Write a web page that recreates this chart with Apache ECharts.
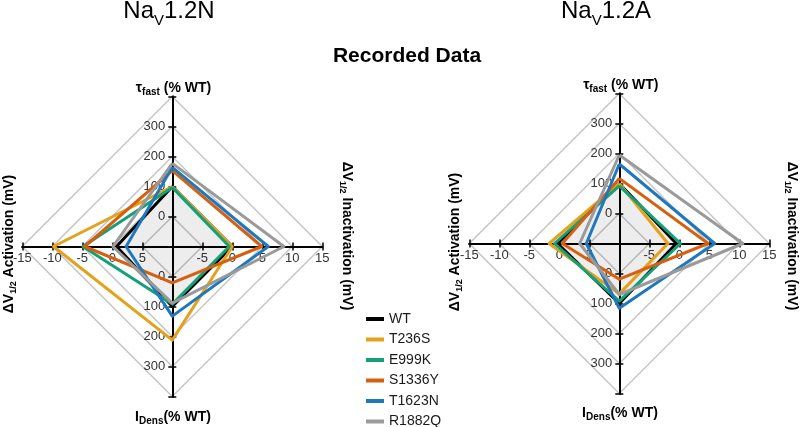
<!DOCTYPE html>
<html><head><meta charset="utf-8">
<script src="https://cdn.jsdelivr.net/npm/echarts@6/dist/echarts.min.js"></script>
<style>html,body{margin:0;padding:0;background:#fff}#c{width:800px;height:427px}</style>
</head><body><div id="c"></div>
<script>
// ---------- data ----------
const variants = ['WT', 'T236S', 'E999K', 'S1336Y', 'T1623N', 'R1882Q'];
const colors = ['#000000', '#E6A11A', '#14A078', '#D6600F', '#1F78BD', '#9A9A9A'];

// NaV1.2N
const nTauFast      = [100, 100, 97, 153, 164, 177];   // % WT
const nActivation   = [0.7, -9.8, -4.9, -4.6, 2.3, 0.1]; // mV
const nIDens        = [100, 212, 92, 21, 132, 89];      // % WT
const nInactivation = [0, 0, -0.5, 4.9, 6.0, 8.6];      // mV

// NaV1.2A
const aTauFast      = [100, 100, 92, 117, 165, 195];
const aActivation   = [-0.3, -1.7, -0.8, 0.5, 4.5, 3.4];
const aIDens        = [100, 68, 92, 19, 116, 70];
const aInactivation = [-0.5, -1.9, 0.2, 4.8, 5.9, 10.6];

// tick labels (outward from the centre)
const percentTicks = ['0', '100', '200', '300'];
const mvTicksRight = ['-5', '0', '5', '10', '15'];
const mvTicksLeft  = ['5', '0', '-5', '-10', '-15'];

// ---------- layout ----------
const FONT = "'Liberation Sans', Arial, sans-serif";
const R = 150;
const panels = [
  { center: [172.3, 246.5], tau: nTauFast, act: nActivation, idens: nIDens, inact: nInactivation },
  { center: [619.3, 243.5], tau: aTauFast, act: aActivation, idens: aIDens, inact: aInactivation }
];

const radar = panels.map(p => ({
  center: p.center, radius: R, startAngle: 90, shape: 'polygon', splitNumber: 5,
  indicator: [
    { name: 'tau', min: -100, max: 400 },
    { name: 'act', min: -10, max: 15 },
    { name: 'idens', min: -100, max: 400 },
    { name: 'inact', min: -10, max: 15 }
  ],
  axisName: { show: false },
  axisLine: { show: false },
  axisTick: { show: false },
  axisLabel: { show: false },
  splitArea: { show: false },
  splitLine: { lineStyle: { color: '#c6c6c6', width: 1.5 } }
}));

const series = panels.map((p, k) => ({
  type: 'radar', radarIndex: k, symbol: 'none', z: 3,
  data: variants.map((v, i) => {
    const d = {
      name: v,
      value: [p.tau[i], -p.act[i], p.idens[i], p.inact[i]],
      lineStyle: { color: colors[i], width: 3 },
      itemStyle: { color: colors[i] }
    };
    if (i === 0) d.areaStyle = { color: 'rgba(0,0,0,0.1)' };
    return d;
  })
}));

const grid = panels.map(p => ({ left: p.center[0] - R, top: p.center[1] - R, width: 2 * R, height: 2 * R }));

const xFmt = v => {
  if (v === 0) return '';
  const idx = Math.abs(v) / 5 - 1;
  return (v > 0 ? mvTicksRight : mvTicksLeft)[idx] || '';
};
const yFmt = v => {
  const idx = Math.abs(v) / 100 - 1;
  return percentTicks[idx] !== undefined ? percentTicks[idx] : '';
};

function axis(k, dim, pos, withLabel) {
  const isX = dim === 'x';
  return {
    type: 'value', gridIndex: k, z: 1, position: pos, offset: -R,
    min: isX ? -25 : -500, max: isX ? 25 : 500, interval: isX ? 5 : 100,
    axisLine: { onZero: false, lineStyle: { color: '#000', width: 2 } },
    axisTick: { show: true, length: 4, lineStyle: { color: '#000', width: 1.5 } },
    splitLine: { show: false },
    axisLabel: withLabel ? {
      formatter: isX ? xFmt : yFmt, fontSize: 13, color: '#333', fontFamily: FONT,
      margin: isX ? 5 : 7, showMinLabel: true, showMaxLabel: true
    } : { show: false }
  };
}
const xAxis = [], yAxis = [];
panels.forEach((p, k) => {
  xAxis.push(axis(k, 'x', 'bottom', true), axis(k, 'x', 'top', false));
  yAxis.push(axis(k, 'y', 'left', true), axis(k, 'y', 'right', false));
});

function txt(x, y, text, o) {
  return {
    type: 'text', x: x, y: y, rotation: o.rot || 0, z: 10,
    style: {
      text: text, fill: '#000', fontSize: o.size, fontWeight: o.weight || 'normal', fontFamily: FONT,
      align: 'center', verticalAlign: 'middle', lineHeight: o.lh,
      rich: o.rich
    }
  };
}
const subSmall = { s: { fontSize: 10, lineHeight: 10, verticalAlign: 'bottom', fontWeight: 'bold', fontFamily: FONT, fill: '#000' } };
const subSide = { s: { fontSize: 9, lineHeight: 9, verticalAlign: 'bottom', fontWeight: 'bold', fontFamily: FONT, fill: '#000' } };
const subTitle = { v: { fontSize: 15, lineHeight: 15, verticalAlign: 'bottom', fontFamily: FONT, fill: '#000' } };

const graphic = [
  txt(169, 11, 'Na{v|V}1.2N', { size: 24, lh: 34, rich: subTitle }),
  txt(606, 11, 'Na{v|V}1.2A', { size: 24, lh: 34, rich: subTitle }),
  txt(407, 56, 'Recorded Data', { size: 21, weight: 'bold', lh: 24 }),
  txt(173.5, 88, 'τ{s|fast} (% WT)', { size: 14, weight: 'bold', lh: 18, rich: subSmall }),
  txt(620.8, 85, 'τ{s|fast} (% WT)', { size: 14, weight: 'bold', lh: 18, rich: subSmall }),
  txt(173, 417, 'I{s|Dens}(% WT)', { size: 14, weight: 'bold', lh: 18, rich: subSmall }),
  txt(620, 413, 'I{s|Dens}(% WT)', { size: 14, weight: 'bold', lh: 18, rich: subSmall }),
  txt(347, 236, 'ΔV{s|1/2} Inactivation (mV)', { size: 14, weight: 'bold', lh: 18, rich: subSide, rot: -Math.PI / 2 }),
  txt(792, 236, 'ΔV{s|1/2} Inactivation (mV)', { size: 14, weight: 'bold', lh: 18, rich: subSide, rot: -Math.PI / 2 }),
  txt(9, 244, 'ΔV{s|1/2} Activation (mV)', { size: 14, weight: 'bold', lh: 18, rich: subSide, rot: Math.PI / 2 }),
  txt(455, 242, 'ΔV{s|1/2} Activation (mV)', { size: 14, weight: 'bold', lh: 18, rich: subSide, rot: Math.PI / 2 })
];

const chart = echarts.init(document.getElementById('c'), null, { renderer: 'canvas' });
chart.setOption({
  animation: false,
  backgroundColor: '#fff',
  textStyle: { fontFamily: FONT },
  legend: {
    data: variants, orient: 'vertical', left: 366, top: 311, height: 140, padding: 0, icon: 'rect',
    itemWidth: 18, itemHeight: 4, itemGap: 4.5, selectedMode: false,
    textStyle: { fontSize: 14, lineHeight: 16, color: '#1a1a1a', fontFamily: FONT }
  },
  grid: grid, xAxis: xAxis, yAxis: yAxis,
  radar: radar,
  series: series,
  graphic: graphic
});
</script></body></html>
